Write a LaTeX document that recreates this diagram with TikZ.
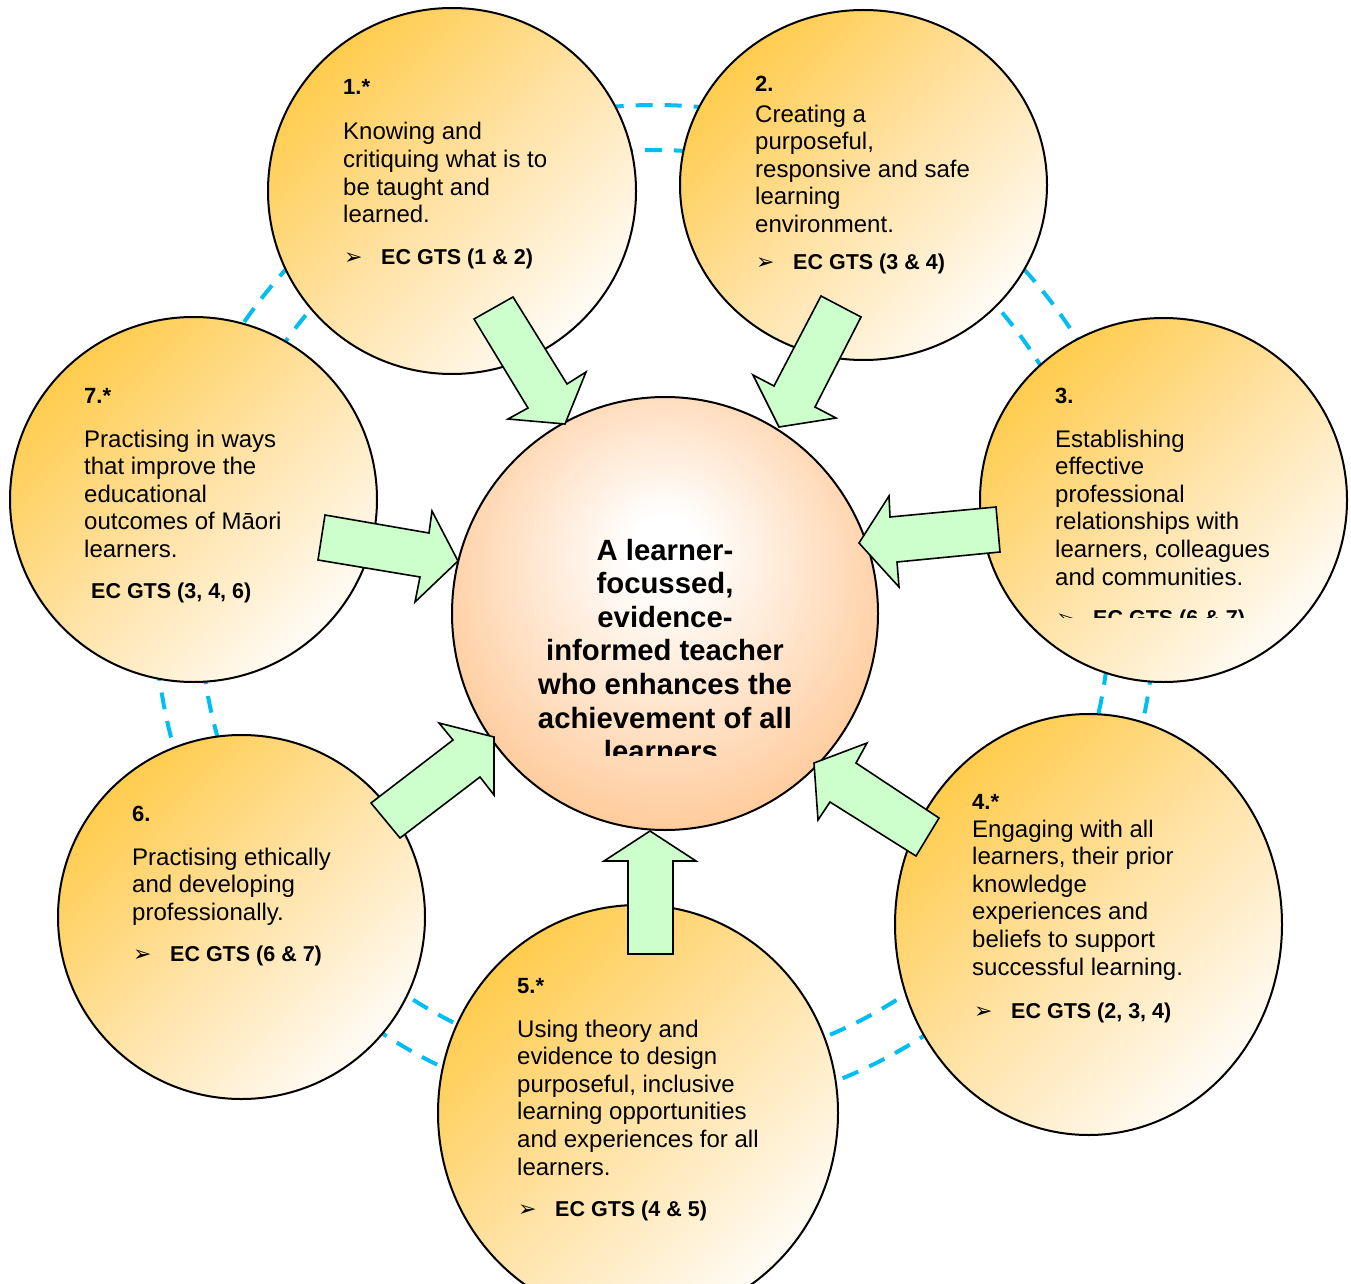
\documentclass[tikz,border=0pt]{standalone}
\usepackage{fontspec}
\setmainfont{Liberation Sans}
\newfontfamily\dejavu{DejaVu Sans}
\usetikzlibrary{shapes.geometric}
\definecolor{ringblue}{RGB}{0,190,242}
\definecolor{gold}{RGB}{255,204,77}
\definecolor{goldmid}{RGB}{255,226,165}
\definecolor{cream}{RGB}{255,251,245}
\definecolor{peach}{RGB}{255,200,150}
\definecolor{arrowgreen}{RGB}{204,255,204}
\pgfdeclareradialshading{centreshade}{\pgfpoint{0bp}{8bp}}{color(0bp)=(white); color(4bp)=(white); color(30bp)=(peach); color(50bp)=(peach)}
\tikzset{
  bubble/.style={ellipse, draw=black, line width=2pt, inner sep=0pt,
    top color=gold, bottom color=cream, middle color=goldmid, shading angle=45},
  centrebubble/.style={ellipse, draw=black, line width=2pt, inner sep=0pt, shading=centreshade},
  ring/.style={draw=ringblue, line width=4pt, dash pattern=on 17pt off 12pt},
  blockarrow/.style={draw=black, line width=1.6pt, fill=arrowgreen, line join=miter},
  body/.style={font=\fontsize{24}{27.6}\selectfont, align=left, anchor=base west, inner sep=0pt},
  numlab/.style={font=\bfseries\fontsize{22}{26}\selectfont, anchor=base west, inner sep=0pt},
  gts/.style={font=\bfseries\fontsize{21.5}{26}\selectfont, anchor=base west, inner sep=0pt},
  bulletmark/.style={font=\dejavu\fontsize{22}{24}\selectfont, anchor=base west, inner sep=0pt},
  centretext/.style={font=\bfseries\fontsize{29.3}{33.6}\selectfont, align=center, anchor=base, inner sep=0pt},
}
\begin{document}
\begin{tikzpicture}[x=1pt,y=-1pt]
\useasboundingbox (0,0) rectangle (1351,1284);
% dashed double ring
\draw[ring] (655,610) ellipse [x radius=500, y radius=505];
\draw[ring] (655,610) ellipse [x radius=455, y radius=460];
% outer bubbles
\node[bubble, minimum width=368, minimum height=366] (b1) at (452,191) {};
\node[bubble, minimum width=367, minimum height=350] (b2) at (863.5,185) {};
\node[bubble, minimum width=367, minimum height=364] (b3) at (1163.5,500) {};
\node[bubble, minimum width=387, minimum height=421] (b4) at (1088.5,924.5) {};
\node[bubble, minimum width=400, minimum height=416] (b5) at (638,1113) {};
\node[bubble, minimum width=367, minimum height=364] (b6) at (241.5,917) {};
\node[bubble, minimum width=367, minimum height=365] (b7) at (193.5,499.5) {};
% centre bubble
\node[centrebubble, minimum width=426, minimum height=433] (c) at (665,613.5) {};
\begin{scope}
\clip (420,400) rectangle (910,755);
\node[centretext] (ct) at (665,761.6) {A learner-\\focussed,\\evidence-\\informed teacher\\who enhances the\\achievement of all\\learners.};
\end{scope}
% texts bubble 1 (base anchor = last line)
\node[numlab] (n1) at (343,95) {1.*};
\node[body] (t1) at (343,222.8) {Knowing and\\critiquing what is to\\be taught and\\learned.};
\node[bulletmark] (m1) at (344,264) {➢};
\node[gts] (g1) at (381,264) {EC GTS (1 \& 2)};
% bubble 2
\node[numlab] (n2) at (755,92) {2.};
\node[body] (t2) at (755,232.4) {Creating a\\purposeful,\\responsive and safe\\learning\\environment.};
\node[bulletmark] (m2) at (756,269) {➢};
\node[gts] (g2) at (793,269) {EC GTS (3 \& 4)};
% bubble 3
\node[numlab] (n3) at (1055,403) {3.};
\node[body] (t3) at (1055,585) {Establishing\\effective\\professional\\relationships with\\learners, colleagues\\and communities.};
\begin{scope}
\clip (1040,590) rectangle (1300,617);
\node[bulletmark] (m3) at (1056,625.5) {➢};
\node[gts] (g3) at (1093,625.5) {EC GTS (6 \& 7)};
\end{scope}
% bubble 4
\node[numlab] (n4) at (972,809) {4.*};
\node[body] (t4) at (972,975) {Engaging with all\\learners, their prior\\knowledge\\experiences and\\beliefs to support\\successful learning.};
\node[bulletmark] (m4) at (974,1018) {➢};
\node[gts] (g4) at (1011,1018) {EC GTS (2, 3, 4)};
% bubble 5
\node[numlab] (n5) at (517,993) {5.*};
\node[body] (t5) at (517,1175) {Using theory and\\evidence to design\\purposeful, inclusive\\learning opportunities\\and experiences for all\\learners.};
\node[bulletmark] (m5) at (518,1216) {➢};
\node[gts] (g5) at (555,1216) {EC GTS (4 \& 5)};
% bubble 6
\node[numlab] (n6) at (132,821) {6.};
\node[body] (t6) at (132,920.2) {Practising ethically\\and developing\\professionally.};
\node[bulletmark] (m6) at (133,961) {➢};
\node[gts] (g6) at (170,961) {EC GTS (6 \& 7)};
% bubble 7
\node[numlab] (n7) at (84,403) {7.*};
\node[body] (t7) at (84,557.4) {Practising in ways\\that improve the\\educational\\outcomes of Māori\\learners.};
\node[gts] (g7) at (91,598) {EC GTS (3, 4, 6)};
% block arrows
\draw[blockarrow] (474,319) -- (513,297) -- (567,384) -- (586,372) -- (565,424) -- (508,419) -- (528,408) -- cycle;
\draw[blockarrow] (821,296) -- (861,317) -- (815,407) -- (836,418) -- (779,427) -- (753,375) -- (774,386) -- cycle;
\draw[blockarrow] (996,507) -- (890,517) -- (889,496) -- (859,543) -- (899,587) -- (897,562) -- (1000,552) -- cycle;
\draw[blockarrow] (939,818) -- (856,763) -- (867,743) -- (814,763) -- (818,820) -- (830,802) -- (916,856) -- cycle;
\draw[blockarrow] (628,954) -- (628,861) -- (604,861) -- (650,831) -- (696,861) -- (673,861) -- (673,954) -- cycle;
\draw[blockarrow] (371,803) -- (453,740) -- (439,723) -- (494,737) -- (494,795) -- (480,777) -- (400,838) -- cycle;
\draw[blockarrow] (325,515) -- (429,533) -- (432,511) -- (458,561) -- (415,602) -- (420,577) -- (318,560) -- cycle;
\end{tikzpicture}
\end{document}
